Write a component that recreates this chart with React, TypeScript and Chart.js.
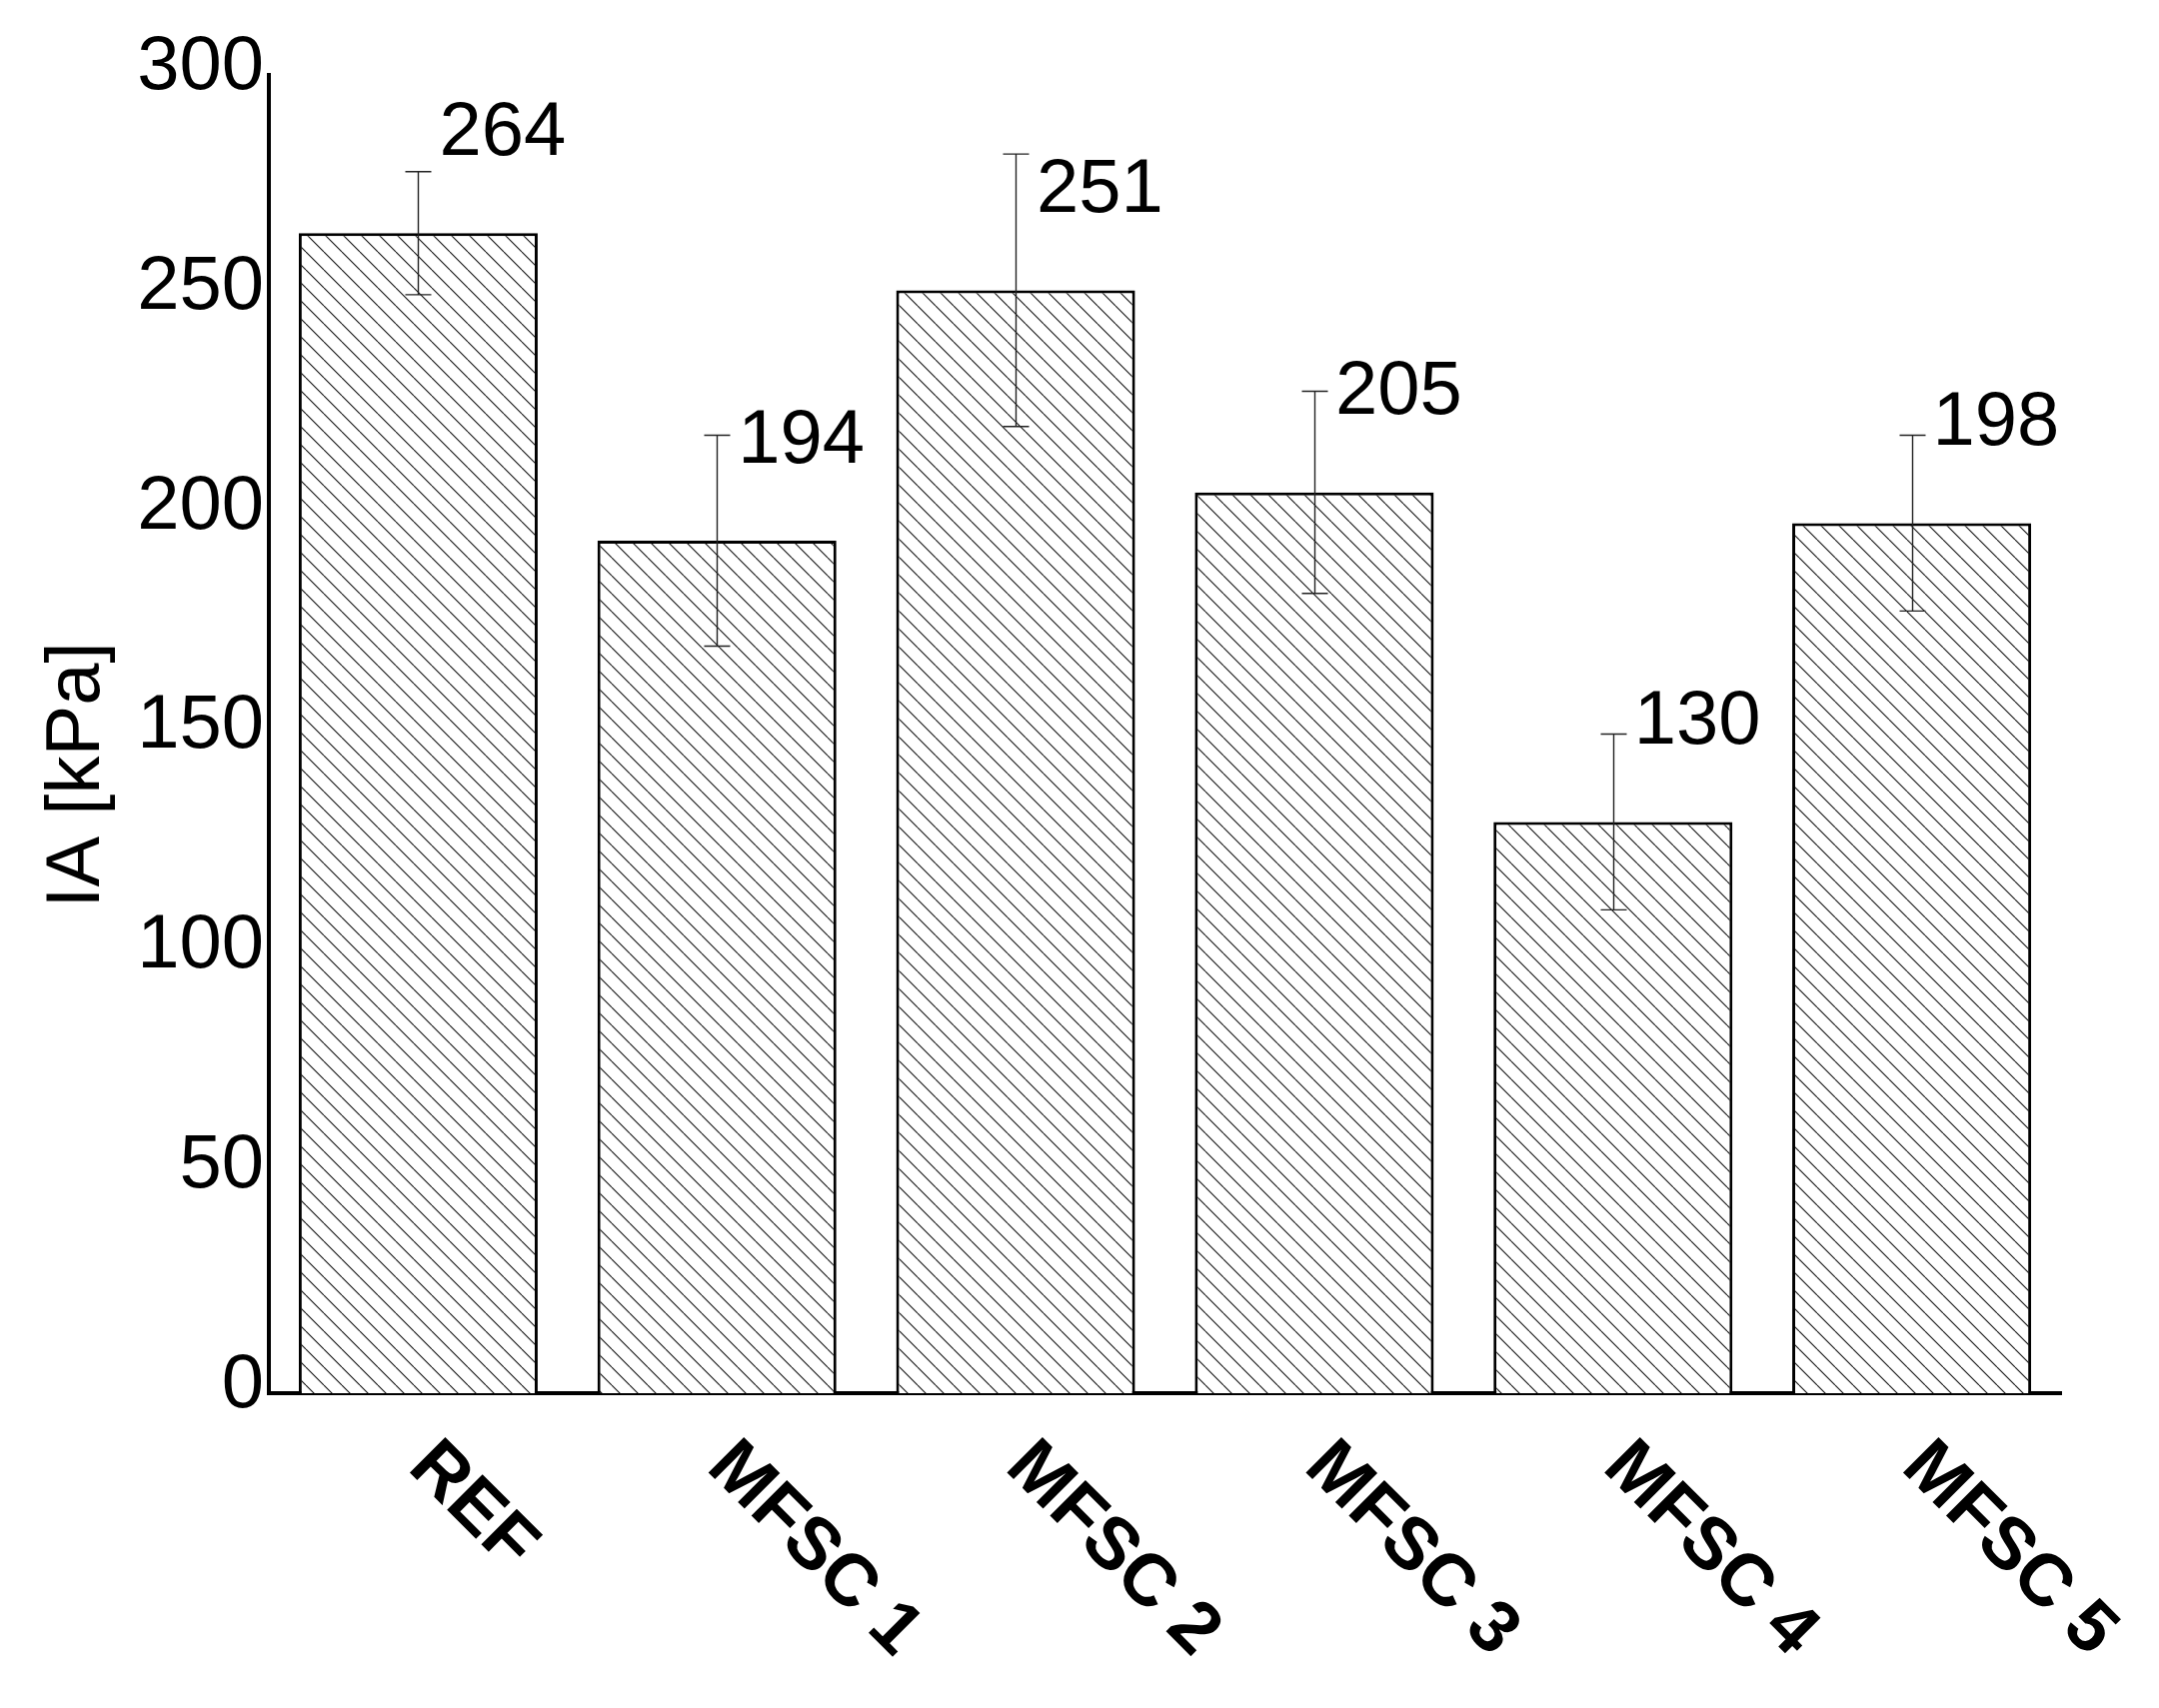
import React, { useEffect, useRef } from 'react';
import { Chart, registerables } from 'chart.js';

Chart.register(...registerables);

const categories = ['REF', 'MFSC 1', 'MFSC 2', 'MFSC 3', 'MFSC 4', 'MFSC 5'];
const values = [264, 194, 251, 205, 130, 198];
const errors = [14, 24, 31, 23, 20, 20];
const valueLabels = ['264', '194', '251', '205', '130', '198'];
const yMin = 0;
const yMax = 300;
const yStep = 50;
const yTitle = 'IA [kPa]';

const FONT = '"Liberation Sans", Arial, sans-serif';

function makeHatch(ctx: CanvasRenderingContext2D): CanvasPattern | string {
  const c = document.createElement('canvas');
  c.width = 18;
  c.height = 18;
  const g = c.getContext('2d');
  if (!g) return '#fff';
  g.fillStyle = '#fff';
  g.fillRect(0, 0, 18, 18);
  g.strokeStyle = '#111';
  g.lineWidth = 1.1;
  for (const o of [-18, 0, 18]) {
    g.beginPath();
    g.moveTo(o, 0);
    g.lineTo(o + 18, 18);
    g.stroke();
  }
  return ctx.createPattern(c, 'repeat') || '#fff';
}

const annotate = {
  id: 'annotate',
  afterDatasetsDraw(chart: any) {
    const ctx: CanvasRenderingContext2D = chart.ctx;
    const y = chart.scales.y;
    const area = chart.chartArea;
    const meta = chart.getDatasetMeta(0);
    ctx.save();
    // error bars
    ctx.strokeStyle = '#222';
    ctx.lineWidth = 1.4;
    meta.data.forEach((bar: any, i: number) => {
      const x = Math.round(bar.x) + 0.5;
      const yt = y.getPixelForValue(values[i] + errors[i]);
      const yb = y.getPixelForValue(values[i] - errors[i]);
      ctx.beginPath();
      ctx.moveTo(x, yt);
      ctx.lineTo(x, yb);
      ctx.moveTo(x - 13, yt);
      ctx.lineTo(x + 13, yt);
      ctx.moveTo(x - 13, yb);
      ctx.lineTo(x + 13, yb);
      ctx.stroke();
    });
    // value labels
    ctx.fillStyle = '#000';
    ctx.font = `76px ${FONT}`;
    ctx.textAlign = 'left';
    ctx.textBaseline = 'alphabetic';
    meta.data.forEach((bar: any, i: number) => {
      const yy = y.getPixelForValue(values[i] + 24) + 27;
      ctx.fillText(valueLabels[i], bar.x + 21, yy);
    });
    // x category labels, rotated clockwise
    ctx.font = `bold 73px ${FONT}`;
    meta.data.forEach((bar: any, i: number) => {
      ctx.save();
      ctx.translate(bar.x - 12, area.bottom + 76);
      ctx.rotate(Math.PI / 4);
      ctx.textAlign = 'left';
      ctx.fillText(categories[i], 0, 0);
      ctx.restore();
    });
    // y title
    ctx.font = `76px ${FONT}`;
    ctx.save();
    ctx.translate(99, (area.top + area.bottom) / 2 + 41);
    ctx.rotate(-Math.PI / 2);
    ctx.textAlign = 'center';
    ctx.fillText(yTitle, 0, 0);
    ctx.restore();
    ctx.restore();
  },
};

export default function App() {
  const ref = useRef<HTMLCanvasElement | null>(null);
  useEffect(() => {
    document.body.style.margin = '0';
    const canvas = ref.current;
    if (!canvas) return;
    const ctx = canvas.getContext('2d');
    if (!ctx) return;
    const hatch = makeHatch(ctx);
    const chart = new Chart(ctx, {
      type: 'bar',
      data: {
        labels: categories,
        datasets: [
          {
            data: values,
            backgroundColor: hatch as any,
            borderColor: '#000',
            borderWidth: 3,
            borderSkipped: 'bottom',
            barPercentage: 0.8,
            categoryPercentage: 1.0,
          },
        ],
      },
      options: {
        animation: false,
        responsive: false,
        devicePixelRatio: 1,
        layout: { padding: { left: 0, right: 98, top: 75, bottom: 0 } },
        plugins: { legend: { display: false }, tooltip: { enabled: false } },
        scales: {
          x: {
            grid: { display: false, drawTicks: false },
            border: { display: true, color: '#000', width: 4 },
            ticks: { display: false },
            afterFit: (s: any) => {
              s.height = 315;
            },
          },
          y: {
            min: yMin,
            max: yMax,
            grid: { display: false, drawTicks: false },
            border: { display: true, color: '#000', width: 4 },
            ticks: {
              stepSize: yStep,
              color: '#000',
              padding: 5,
              labelOffset: -7,
              font: { family: FONT, size: 76 },
            },
            afterFit: (s: any) => {
              s.width = 269;
            },
          },
        },
      },
      plugins: [annotate],
    });
    return () => chart.destroy();
  }, []);
  return (
    <div style={{ position: 'absolute', left: 0, top: 0, width: 2160, height: 1709, background: '#fff' }}>
      <canvas ref={ref} width={2160} height={1709} style={{ display: 'block' }} />
    </div>
  );
}
